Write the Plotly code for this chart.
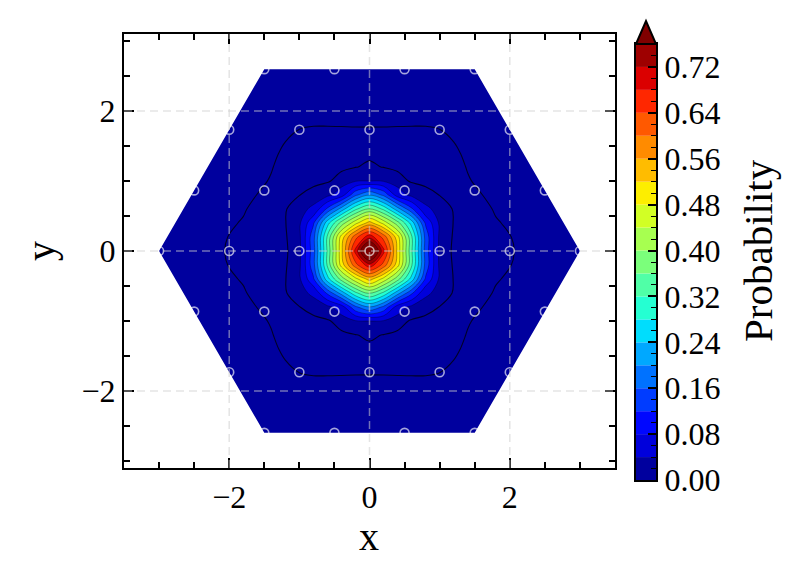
import numpy as np
import plotly.graph_objects as go

# lattice sites (triangular lattice cut to a hexagon)
site_x = [-3, -2, -1, 0, 1, 2, 3,
          -2.5, -1.5, -0.5, 0.5, 1.5, 2.5,
          -2.5, -1.5, -0.5, 0.5, 1.5, 2.5,
          -2, -1, 0, 1, 2,
          -2, -1, 0, 1, 2,
          -1.5, -0.5, 0.5, 1.5,
          -1.5, -0.5, 0.5, 1.5]
site_y = [0, 0, 0, 0, 0, 0, 0,
          0.866, 0.866, 0.866, 0.866, 0.866, 0.866,
          -0.866, -0.866, -0.866, -0.866, -0.866, -0.866,
          1.732, 1.732, 1.732, 1.732, 1.732,
          -1.732, -1.732, -1.732, -1.732, -1.732,
          2.598, 2.598, 2.598, 2.598,
          -2.598, -2.598, -2.598, -2.598]

# probability field
grid_x = [-3.0, -2.4, -1.8, -1.4, -1.2, -1.0, -0.8, -0.6, -0.4, -0.2, 0.0,
          0.2, 0.4, 0.6, 0.8, 1.0, 1.2, 1.4, 1.8, 2.4, 3.0]
grid_y = [-2.6, -2.2, -1.8, -1.4, -1.2, -1.0, -0.8, -0.6, -0.4, -0.2, 0.0,
          0.2, 0.4, 0.6, 0.8, 1.0, 1.2, 1.4, 1.8, 2.2, 2.6]
prob = [
    [0.0019, 0.0029, 0.0041, 0.0046, 0.0049, 0.0050, 0.0049, 0.0048, 0.0047, 0.0046, 0.0046, 0.0046, 0.0047, 0.0048, 0.0049, 0.0050, 0.0049, 0.0046, 0.0041, 0.0029, 0.0019],
    [0.0021, 0.0032, 0.0047, 0.0060, 0.0066, 0.0070, 0.0071, 0.0070, 0.0068, 0.0066, 0.0065, 0.0066, 0.0068, 0.0070, 0.0071, 0.0070, 0.0066, 0.0060, 0.0047, 0.0032, 0.0021],
    [0.0025, 0.0036, 0.0055, 0.0077, 0.0088, 0.0095, 0.0098, 0.0098, 0.0097, 0.0095, 0.0094, 0.0095, 0.0097, 0.0098, 0.0098, 0.0095, 0.0088, 0.0077, 0.0055, 0.0036, 0.0025],
    [0.0028, 0.0041, 0.0063, 0.0091, 0.0108, 0.0128, 0.0141, 0.0143, 0.0151, 0.0165, 0.0174, 0.0165, 0.0151, 0.0143, 0.0141, 0.0128, 0.0108, 0.0091, 0.0063, 0.0041, 0.0028],
    [0.0030, 0.0043, 0.0069, 0.0097, 0.0118, 0.0140, 0.0148, 0.0156, 0.0180, 0.0195, 0.0220, 0.0195, 0.0180, 0.0156, 0.0148, 0.0140, 0.0118, 0.0097, 0.0069, 0.0043, 0.0030],
    [0.0034, 0.0047, 0.0075, 0.0104, 0.0132, 0.0158, 0.0171, 0.0187, 0.0242, 0.0370, 0.0400, 0.0370, 0.0242, 0.0187, 0.0171, 0.0158, 0.0132, 0.0104, 0.0075, 0.0047, 0.0034],
    [0.0037, 0.0052, 0.0084, 0.0118, 0.0160, 0.0197, 0.0241, 0.0310, 0.0600, 0.1520, 0.1990, 0.1520, 0.0600, 0.0310, 0.0241, 0.0197, 0.0160, 0.0118, 0.0084, 0.0052, 0.0037],
    [0.0040, 0.0059, 0.0094, 0.0140, 0.0188, 0.0295, 0.0470, 0.1280, 0.2170, 0.3110, 0.3680, 0.3110, 0.2170, 0.1280, 0.0470, 0.0295, 0.0188, 0.0140, 0.0094, 0.0059, 0.0040],
    [0.0043, 0.0066, 0.0105, 0.0153, 0.0194, 0.0336, 0.1140, 0.2640, 0.3770, 0.4670, 0.5370, 0.4670, 0.3770, 0.2640, 0.1140, 0.0336, 0.0194, 0.0153, 0.0105, 0.0066, 0.0043],
    [0.0045, 0.0071, 0.0117, 0.0152, 0.0185, 0.0316, 0.1460, 0.3270, 0.4970, 0.6260, 0.7060, 0.6260, 0.4970, 0.3270, 0.1460, 0.0316, 0.0185, 0.0152, 0.0117, 0.0071, 0.0045],
    [0.0045, 0.0073, 0.0121, 0.0150, 0.0178, 0.0300, 0.1430, 0.3260, 0.5090, 0.6920, 0.8750, 0.6920, 0.5090, 0.3260, 0.1430, 0.0300, 0.0178, 0.0150, 0.0121, 0.0073, 0.0045],
    [0.0045, 0.0071, 0.0117, 0.0152, 0.0185, 0.0316, 0.1460, 0.3270, 0.4970, 0.6260, 0.7060, 0.6260, 0.4970, 0.3270, 0.1460, 0.0316, 0.0185, 0.0152, 0.0117, 0.0071, 0.0045],
    [0.0043, 0.0066, 0.0105, 0.0153, 0.0194, 0.0336, 0.1140, 0.2640, 0.3770, 0.4670, 0.5370, 0.4670, 0.3770, 0.2640, 0.1140, 0.0336, 0.0194, 0.0153, 0.0105, 0.0066, 0.0043],
    [0.0040, 0.0059, 0.0094, 0.0140, 0.0188, 0.0295, 0.0470, 0.1280, 0.2170, 0.3110, 0.3680, 0.3110, 0.2170, 0.1280, 0.0470, 0.0295, 0.0188, 0.0140, 0.0094, 0.0059, 0.0040],
    [0.0037, 0.0052, 0.0084, 0.0118, 0.0160, 0.0197, 0.0241, 0.0310, 0.0600, 0.1520, 0.1990, 0.1520, 0.0600, 0.0310, 0.0241, 0.0197, 0.0160, 0.0118, 0.0084, 0.0052, 0.0037],
    [0.0034, 0.0047, 0.0075, 0.0104, 0.0132, 0.0158, 0.0171, 0.0187, 0.0242, 0.0370, 0.0400, 0.0370, 0.0242, 0.0187, 0.0171, 0.0158, 0.0132, 0.0104, 0.0075, 0.0047, 0.0034],
    [0.0030, 0.0043, 0.0069, 0.0097, 0.0118, 0.0140, 0.0148, 0.0156, 0.0180, 0.0195, 0.0220, 0.0195, 0.0180, 0.0156, 0.0148, 0.0140, 0.0118, 0.0097, 0.0069, 0.0043, 0.0030],
    [0.0028, 0.0041, 0.0063, 0.0091, 0.0108, 0.0128, 0.0141, 0.0143, 0.0151, 0.0165, 0.0174, 0.0165, 0.0151, 0.0143, 0.0141, 0.0128, 0.0108, 0.0091, 0.0063, 0.0041, 0.0028],
    [0.0025, 0.0036, 0.0055, 0.0077, 0.0088, 0.0095, 0.0098, 0.0098, 0.0097, 0.0095, 0.0094, 0.0095, 0.0097, 0.0098, 0.0098, 0.0095, 0.0088, 0.0077, 0.0055, 0.0036, 0.0025],
    [0.0021, 0.0032, 0.0047, 0.0060, 0.0066, 0.0070, 0.0071, 0.0070, 0.0068, 0.0066, 0.0065, 0.0066, 0.0068, 0.0070, 0.0071, 0.0070, 0.0066, 0.0060, 0.0047, 0.0032, 0.0021],
    [0.0019, 0.0029, 0.0041, 0.0046, 0.0049, 0.0050, 0.0049, 0.0048, 0.0047, 0.0046, 0.0046, 0.0046, 0.0047, 0.0048, 0.0049, 0.0050, 0.0049, 0.0046, 0.0041, 0.0029, 0.0019],
]

# filled levels 0.00 ... 0.76 (step 0.04), values above 0.76 get the arrow colour
fill_levels = [0.00, 0.04, 0.08, 0.12, 0.16, 0.20, 0.24, 0.28, 0.32, 0.36,
               0.40, 0.44, 0.48, 0.52, 0.56, 0.60, 0.64, 0.68, 0.72, 0.76]
line_levels = dict(start=0.01, end=0.02, size=0.01)

FONT = "Liberation Serif"
# the page body adds an 8px margin, so the figure is laid out in window pixels
OFF = 8
W, H = 790, 564


def fx(p):
    return (p - OFF) / W


def fy(p):
    return 1 - (p - OFF) / H


def jet(v):
    r = np.interp(v, [0, 0.35, 0.66, 0.89, 1], [0, 0, 1, 1, 0.5])
    g = np.interp(v, [0, 0.125, 0.375, 0.64, 0.91, 1], [0, 0, 1, 1, 0, 0])
    b = np.interp(v, [0, 0.11, 0.34, 0.65, 1], [0.5, 1, 1, 0, 0])
    return "rgb(%d,%d,%d)" % (round(r * 255), round(g * 255), round(b * 255))


n_bands = len(fill_levels) - 1
step = fill_levels[1] - fill_levels[0]
band_colors = [jet((2 * k + 1) / (2 * n_bands)) for k in range(n_bands)]
over_color = jet(1.0)
all_colors = band_colors + [over_color]
# plotly samples the scale at k / n_bands for band k (k = 0 is below the first line)
colorscale = [[k / n_bands, c] for k, c in enumerate(all_colors)]

fig = go.Figure()

fig.add_trace(go.Contour(
    x=grid_x, y=grid_y, z=prob,
    autocontour=False,
    contours=dict(coloring="fill", start=fill_levels[1], end=fill_levels[-1], size=step),
    colorscale=colorscale, showscale=False,
    line=dict(color="rgba(0,0,0,0.4)", width=0.8, smoothing=1),
    hoverinfo="skip",
))

# thin dark contour lines at low probability
fig.add_trace(go.Contour(
    x=grid_x, y=grid_y, z=prob,
    autocontour=False,
    contours=dict(coloring="none", **line_levels),
    line=dict(color="rgba(0,0,0,0.75)", width=1.1, smoothing=1),
    showscale=False, hoverinfo="skip",
))

# white mask outside the hexagonal lattice
hx = max(site_x)
hy = max(site_y)
hx_top = max(x for x, y in zip(site_x, site_y) if y == hy)
pad = 0.3
mask_x = [-hx - pad, -hx, -hx_top, hx_top, hx, hx + pad, hx + pad, -hx - pad, -hx - pad, None,
          -hx - pad, -hx, -hx_top, hx_top, hx, hx + pad, hx + pad, -hx - pad, -hx - pad]
mask_y = [0, 0, hy, hy, 0, 0, hy + pad, hy + pad, 0, None,
          0, 0, -hy, -hy, 0, 0, -hy - pad, -hy - pad, 0]
fig.add_trace(go.Scatter(
    x=mask_x, y=mask_y, mode="lines", fill="toself",
    fillcolor="white", line=dict(width=0, color="white"),
    hoverinfo="skip", showlegend=False,
))

# lattice sites
fig.add_trace(go.Scatter(
    x=site_x, y=site_y, mode="markers",
    marker=dict(symbol="circle-open", size=9, color="rgba(255,255,255,0.65)",
                line=dict(width=1.6)),
    hoverinfo="skip", showlegend=False,
))

# colour bar drawn as stacked bars on its own axes
fig.add_trace(go.Bar(
    x=[0.5] * n_bands, y=[step] * n_bands, base=fill_levels[:-1], width=1,
    marker=dict(color=band_colors, line=dict(width=0)),
    xaxis="x2", yaxis="y2", hoverinfo="skip", showlegend=False,
))

# dashed grid on top of the field
grid_style = dict(color="rgba(205,205,205,0.55)", width=1.5, dash="8px,5px")
shapes = []
for v in [-2, 0, 2]:
    shapes.append(dict(type="line", xref="x", yref="y domain", x0=v, x1=v, y0=0, y1=1,
                       line=grid_style, layer="above"))
    shapes.append(dict(type="line", xref="x domain", yref="y", x0=0, x1=1, y0=v, y1=v,
                       line=grid_style, layer="above"))

# extend-max arrow on top of the colour bar
cb_l, cb_r, cb_t, cb_b = 636, 656, 44, 480
shapes.append(dict(
    type="path", xref="paper", yref="paper",
    path="M %f,%f L %f,%f L %f,%f Z" % (fx(cb_l), fy(cb_t), fx((cb_l + cb_r) / 2), fy(21),
                                        fx(cb_r), fy(cb_t)),
    fillcolor=over_color, line=dict(color="black", width=2), layer="above",
))

tick_font = dict(family=FONT, size=32, color="black")
label_font = dict(family=FONT, size=40, color="black")
axis_common = dict(
    showline=True, linecolor="black", linewidth=2, mirror="allticks",
    ticks="inside", ticklen=10, tickwidth=2, tickcolor="black",
    showgrid=False, zeroline=False, dtick=2, tick0=0, automargin=False,
    minor=dict(ticks="inside", ticklen=6, tickwidth=1.5, tickcolor="black",
               dtick=0.5, tick0=0, showgrid=False),
    tickfont=tick_font,
)
fig.update_layout(
    xaxis=dict(range=[-3.5, 3.5], domain=[fx(124), fx(615)], anchor="y", **axis_common),
    yaxis=dict(range=[-3.1, 3.1], domain=[fy(468), fy(34)], anchor="x", **axis_common),
    xaxis2=dict(range=[0, 1], domain=[fx(cb_l), fx(cb_r)], anchor="y2",
                showline=True, linecolor="black", linewidth=2, mirror=True,
                ticks="", showticklabels=False, showgrid=False, zeroline=False,
                automargin=False),
    yaxis2=dict(range=[fill_levels[0], fill_levels[-1]], domain=[fy(cb_b), fy(cb_t)],
                anchor="x2", side="right",
                showline=True, linecolor="black", linewidth=2, mirror=True,
                ticks="inside", ticklen=8, tickwidth=1.5, tickcolor="black",
                dtick=0.08, tick0=0, tickformat=".2f",
                minor=dict(ticks="inside", ticklen=5, tickwidth=1.2, tickcolor="black",
                           dtick=0.02, tick0=0, showgrid=False),
                showgrid=False, zeroline=False, automargin=False, tickfont=tick_font),
    width=W, height=H,
    margin=dict(l=0, r=0, t=0, b=0),
    plot_bgcolor="white", paper_bgcolor="white",
    showlegend=False, barmode="overlay",
    shapes=shapes,
    annotations=[
        dict(text="x", xref="paper", yref="paper", x=fx(369), y=fy(512),
             xanchor="center", yanchor="top", showarrow=False, font=label_font),
        dict(text="y", xref="paper", yref="paper", x=fx(40), y=fy(251), textangle=-90,
             xanchor="center", yanchor="middle", showarrow=False, font=label_font),
        dict(text="Probability", xref="paper", yref="paper", x=fx(758), y=fy(251),
             textangle=-90, xanchor="center", yanchor="middle", showarrow=False,
             font=dict(family=FONT, size=41, color="black")),
    ],
)

fig.write_html("out.html")
